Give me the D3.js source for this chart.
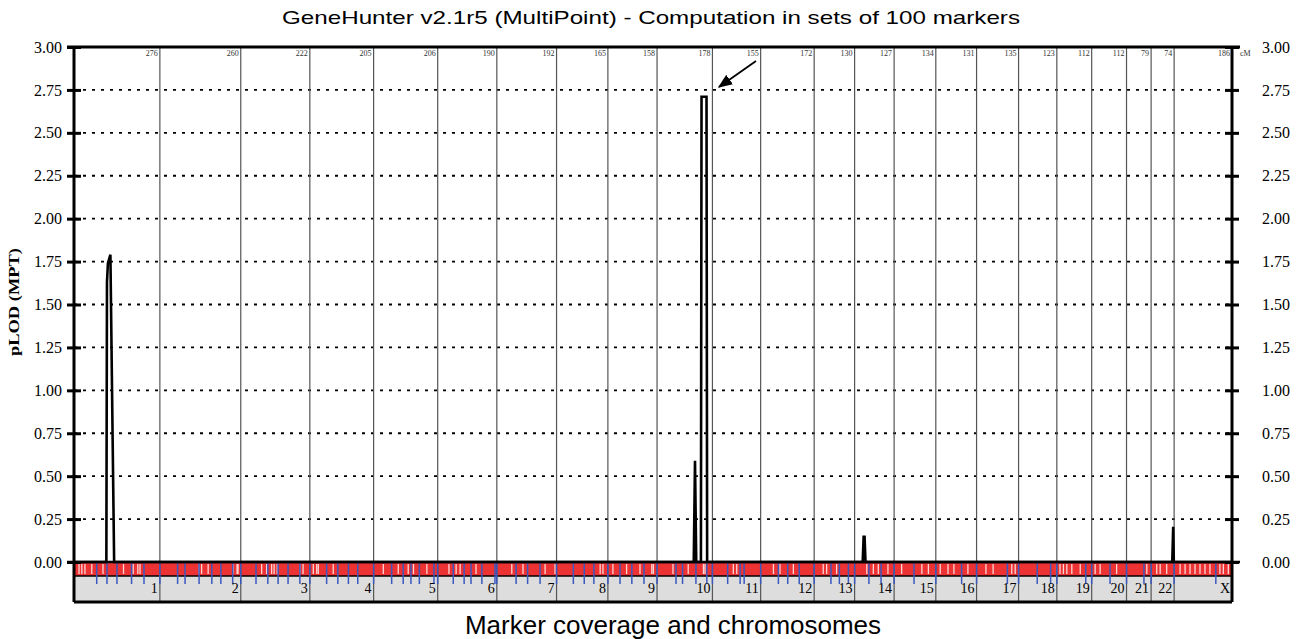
<!DOCTYPE html>
<html>
<head>
<meta charset="utf-8">
<script src="https://cdn.jsdelivr.net/npm/d3@7"></script>
<style>
  body { margin: 0; background: #fff; }
  text { font-family: "Liberation Serif", "DejaVu Serif", serif; }
</style>
</head>
<body>
<svg id="chart" width="1300" height="639"></svg>
<script>
// chromosome names and lengths (cM)
const chromosomes = ["1","2","3","4","5","6","7","8","9","10","11","12","13","14","15","16","17","18","19","20","21","22","X"];
const chromLengths = [276,260,222,205,206,190,192,165,158,178,155,172,130,127,134,131,135,123,112,112,79,74,186];

// pLOD curve, genome-wide cM position and value
const lodPos = [0,104,106,109,117,129,1992,1996,2000,2015,2017,2033,2035,2535,2538,2541,2544,3530,3533,3535,3722];
const lodVal = [0,0,1.63,1.74,1.79,0,0,0.59,0,0,2.71,2.71,0,0,0.147,0.147,0,0,0.205,0,0];

// marker set boundaries (blue ticks), cM
const setBreaks = [73,106,138,185,225,333,357,402,443,472,510,585,623,656,688,726,812,848,882,912,
  1021,1058,1083,1110,1157,1219,1254,1276,1311,1353,1421,1458,1498,1605,1640,1671,1755,1793,1832,
  1935,1956,1999,2034,2101,2141,2154,2264,2294,2331,2433,2460,2489,2555,2594,2700,2853,3000,3096,
  3139,3252,3330,3439,3670];

// gaps in marker coverage (white stripes in red band), cM
const gaps = [16,25,35,57,93,159,190,205,212,402,410,431,511,524,527,603,619,635,643,653,726,736,769,780,785,833,
  994,1042,1074,1091,1134,1205,1228,1241,1292,1407,1443,1514,1546,1691,1700,1732,1776,1819,1857,1862,1925,1974,
  2023,2028,2119,2130,2248,2269,2312,2408,2419,2451,2548,2569,2585,2616,2660,2725,2746,2784,2809,2828,2873,2931,
  2954,3014,3025,3158,3169,3180,3191,3207,3234,3282,3298,3351,3448,3480,3491,3512,3555,3571,3587,3603,3619,3635,
  3651,3683,3694,3710];

const yTicks = [0,0.25,0.5,0.75,1,1.25,1.5,1.75,2,2.25,2.5,2.75,3];

const plotLeft = 74, plotRight = 1232, plotTop = 47, zeroY = 562;
const redBottom = 576, plotBottom = 602;

const svg = d3.select("#chart");

// cumulative chromosome ends
let ends = [];
let sum = 0;
chromLengths.forEach(function (d) { sum += d; ends.push(sum); });

const x = d3.scaleLinear().domain([0, sum]).range([plotLeft, plotRight]);
const y = d3.scaleLinear().domain([0, 3]).range([zeroY, plotTop]);

// title
svg.append("text")
  .attr("x", 651).attr("y", 24)
  .attr("text-anchor", "middle")
  .attr("textLength", 738).attr("lengthAdjust", "spacingAndGlyphs")
  .style("font-family", "'Liberation Sans', Arial, sans-serif")
  .style("font-size", "19px")
  .text("GeneHunter v2.1r5 (MultiPoint) - Computation in sets of 100 markers");

// bottom caption
svg.append("text")
  .attr("x", 673).attr("y", 634)
  .attr("text-anchor", "middle")
  .style("font-family", "'Liberation Sans', Arial, sans-serif")
  .style("font-size", "26px")
  .text("Marker coverage and chromosomes");

// y label
svg.append("text")
  .attr("transform", "translate(19," + 302 + ") rotate(-90)")
  .attr("text-anchor", "middle")
  .attr("textLength", 108).attr("lengthAdjust", "spacingAndGlyphs")
  .style("font-size", "15px")
  .style("font-weight", "bold")
  .text("pLOD (MPT)");

// dotted gridlines
svg.append("g").selectAll("line")
  .data(yTicks.filter(function (d) { return d > 0 && d < 3; }))
  .join("line")
  .attr("x1", plotLeft).attr("x2", plotRight)
  .attr("y1", function (d) { return y(d); }).attr("y2", function (d) { return y(d); })
  .attr("stroke", "#000").attr("stroke-width", 1.8)
  .attr("stroke-dasharray", "3,6");

// red coverage band
svg.append("rect")
  .attr("x", plotLeft).attr("y", zeroY).attr("width", plotRight - plotLeft).attr("height", redBottom - zeroY)
  .attr("fill", "#ec3232");
svg.append("g").selectAll("rect")
  .data(gaps)
  .join("rect")
  .attr("x", function (d) { return x(d) - 0.6; })
  .attr("y", zeroY + 2).attr("width", 1.3).attr("height", redBottom - zeroY - 4)
  .attr("fill", "#fff").attr("opacity", 0.8);

// gray chromosome band
svg.append("rect")
  .attr("x", plotLeft).attr("y", redBottom).attr("width", plotRight - plotLeft).attr("height", plotBottom - redBottom)
  .attr("fill", "#dddddd");
svg.append("line")
  .attr("x1", plotLeft).attr("x2", plotRight).attr("y1", redBottom).attr("y2", redBottom)
  .attr("stroke", "#000").attr("stroke-width", 1.5);

// chromosome boundaries
svg.append("g").selectAll("line")
  .data(ends.slice(0, -1))
  .join("line")
  .attr("x1", function (d) { return x(d); }).attr("x2", function (d) { return x(d); })
  .attr("y1", plotTop).attr("y2", plotBottom)
  .attr("stroke", "#555").attr("stroke-width", 1.2);

// blue marker set ticks
svg.append("g").selectAll("line")
  .data(setBreaks.concat(ends))
  .join("line")
  .attr("x1", function (d) { return x(d); }).attr("x2", function (d) { return x(d); })
  .attr("y1", zeroY + 1).attr("y2", 584)
  .attr("stroke", "#3a58c0").attr("stroke-width", 1.5);

// chromosome lengths at top
svg.append("g").selectAll("text")
  .data(chromLengths)
  .join("text")
  .attr("x", function (d, i) { return x(ends[i]) - 2; })
  .attr("y", plotTop + 9)
  .attr("text-anchor", "end")
  .attr("fill", "#333")
  .style("font-size", "8px")
  .text(function (d) { return d; });

svg.append("text")
  .attr("x", plotRight + 8).attr("y", plotTop + 9)
  .attr("fill", "#333")
  .style("font-size", "8px")
  .text("cM");

// chromosome names
svg.append("g").selectAll("text")
  .data(chromosomes)
  .join("text")
  .attr("x", function (d, i) { return x(ends[i]) - 2; })
  .attr("y", 593)
  .attr("text-anchor", "end")
  .style("font-size", "14px")
  .text(function (d) { return d; });

// pLOD curve
const line = d3.line()
  .x(function (d) { return x(d[0]); })
  .y(function (d) { return y(d[1]); });
svg.append("path")
  .datum(d3.zip(lodPos, lodVal))
  .attr("d", line)
  .attr("fill", "none")
  .attr("stroke", "#000")
  .attr("stroke-width", 2.6)
  .attr("stroke-linejoin", "miter");

// frame
svg.append("line").attr("x1", plotLeft - 7).attr("x2", plotRight + 8).attr("y1", plotTop).attr("y2", plotTop)
  .attr("stroke", "#000").attr("stroke-width", 3);
svg.append("line").attr("x1", plotLeft - 7).attr("x2", plotRight + 8).attr("y1", zeroY).attr("y2", zeroY)
  .attr("stroke", "#000").attr("stroke-width", 2.5);
svg.append("line").attr("x1", plotLeft).attr("x2", plotRight).attr("y1", plotBottom).attr("y2", plotBottom)
  .attr("stroke", "#000").attr("stroke-width", 3);
svg.append("line").attr("x1", plotLeft).attr("x2", plotLeft).attr("y1", plotTop).attr("y2", plotBottom)
  .attr("stroke", "#000").attr("stroke-width", 3);
svg.append("line").attr("x1", plotRight).attr("x2", plotRight).attr("y1", plotTop).attr("y2", plotBottom)
  .attr("stroke", "#000").attr("stroke-width", 3);

// axes both sides
const leftAxis = d3.axisLeft(y).tickValues(yTicks).tickFormat(d3.format(".2f")).tickSize(7).tickPadding(5);
const rightAxis = d3.axisRight(y).tickValues(yTicks).tickFormat(d3.format(".2f")).tickSize(7).tickPadding(23);

function styleAxis(g) {
  g.select(".domain").remove();
  g.selectAll(".tick line").attr("stroke-width", 3);
  g.selectAll(".tick text")
    .style("font-family", "'Liberation Serif', serif")
    .style("font-size", "16px");
}
svg.append("g").attr("transform", "translate(" + plotLeft + ",0)").call(leftAxis).call(styleAxis);
svg.append("g").attr("transform", "translate(" + plotRight + ",0)").call(rightAxis).call(styleAxis);
// ticks cross the axis line
svg.selectAll(".tick line").attr("x1", function () {
  return +d3.select(this).attr("x2") < 0 ? 7 : -7;
});

// arrow pointing at the chr 10 peak
svg.append("defs").append("marker")
  .attr("id", "head")
  .attr("viewBox", "0 0 10 10")
  .attr("refX", 9).attr("refY", 5)
  .attr("markerWidth", 8).attr("markerHeight", 8)
  .attr("orient", "auto")
  .append("path").attr("d", "M0,1L10,5L0,9Z").attr("fill", "#000");
svg.append("line")
  .attr("x1", 756).attr("y1", 61).attr("x2", 719).attr("y2", 87)
  .attr("stroke", "#000").attr("stroke-width", 1.8)
  .attr("marker-end", "url(#head)");
</script>
</body>
</html>
